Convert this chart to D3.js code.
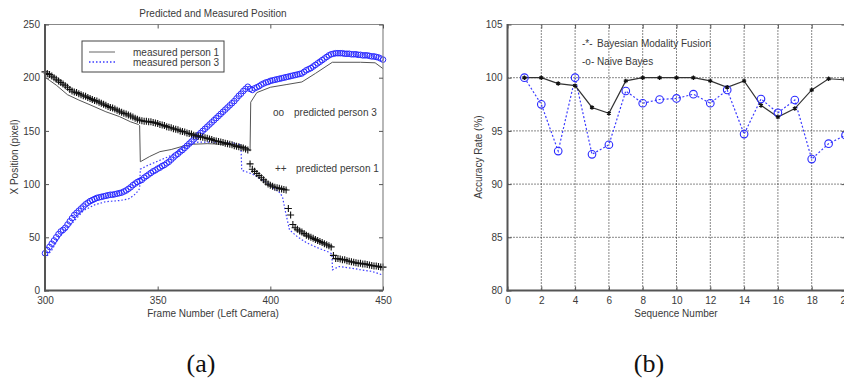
<!DOCTYPE html>
<html>
<head>
<meta charset="utf-8">
<script src="https://cdn.jsdelivr.net/npm/d3@7"></script>
<style>
  body { margin: 0; background: #fff; }
  svg { display: block; font-family: "Liberation Sans", Arial, sans-serif; }
</style>
</head>
<body>
<svg id="fig" width="844" height="383"></svg>
<script>
// ---- (a) Predicted and Measured Position ----
const frames = d3.range(300, 451);

const predictedPerson1 = [
  205.5, 204, 203, 201.5, 200, 198.5, 197, 195.5, 194, 192.5,
  191, 189, 187.5, 186.5, 186, 185, 184, 183, 182.5, 181.5,
  180.5, 179.5, 178.5, 178, 177, 176, 175, 174, 173, 172,
  171.5, 170.5, 169.5, 168.5, 167.5, 166.5, 166, 165, 164, 163,
  162, 161, 160, 159.5, 159, 159, 158.5, 158.5, 158, 157.5,
  157, 156, 155.5, 155, 154, 153.5, 153, 152, 151.5, 151,
  150, 149.5, 149, 148, 147.5, 147, 146, 145.5, 145, 144.5,
  144, 143.5, 143, 142.5, 142, 141, 140.5, 140, 139.5, 139,
  138.5, 138, 137.5, 137, 136, 135.5, 135, 134.5, 134, 133,
  132, 119, 114, 112, 110, 108, 106, 104, 102, 100,
  99, 98, 97, 96.5, 96, 95.5, 95, 94.5, 77, 71,
  62, 59, 57.5, 56, 55, 53.5, 52, 51, 50, 49,
  48, 47, 46, 45, 44, 43, 42, 41, 33, 30,
  30, 29.5, 29, 29, 28, 27.5, 27, 26.5, 26, 25.5,
  25.5, 25, 25, 24.5, 24, 23.5, 23, 23, 22.5, 22,
  22
];

const predictedPerson3 = [
  35, 38, 41, 44, 47, 50, 53, 55.5, 57, 59,
  62, 65, 68, 71, 73, 75, 77, 79, 81, 82.5,
  84, 85, 86, 87, 87.5, 88, 88.5, 89, 89.5, 90,
  90, 90.5, 91, 91.5, 92, 93, 94, 95.5, 97, 99,
  100.5, 102, 103, 104, 106, 107.5, 109, 110.5, 112, 113,
  114.5, 115.5, 117, 118, 119.5, 121, 123, 125, 127, 128.5,
  130.5, 132, 134, 136, 138, 140, 142, 144, 146, 148,
  150, 152, 154, 156, 158, 160, 162, 164, 166, 168,
  170, 172, 174, 176, 178, 180.5, 183, 185, 187.5, 189.5,
  191.5, 189.5, 188.5, 190, 191, 192, 193.5, 194.5, 195.5, 196,
  197, 197.5, 198, 198.5, 199, 199.5, 200, 200.5, 201, 201.5,
  202, 202.5, 203, 203.5, 204, 205.5, 207, 208, 209, 210.5,
  212, 213.5, 215, 216.5, 218, 219.5, 221, 222, 222.5, 223,
  223, 223, 223, 222.5, 222.5, 222.5, 222, 222, 222, 221.5,
  221.5, 221, 221, 221, 220.5, 220, 220, 219.5, 219, 218,
  217
];

// [frame, x position]
const measuredPerson1 = [
  [300, 200.5], [302, 197.5], [305, 193], [310, 184], [315, 179], [320, 174.5],
  [327, 168], [333, 163.5], [338, 158.5], [341.5, 156], [342, 155], [342.3, 121],
  [346.5, 126], [351, 130.5], [356, 132.5], [361, 135.5], [366, 137.5], [372, 138],
  [384, 137], [388, 135.5], [390.5, 133], [391, 131], [391.3, 177], [394, 186],
  [400, 191], [407, 193.5], [414, 196], [420, 204], [427.5, 214.5], [440, 214.5],
  [446.5, 214], [450, 208.5]
];

const measuredPerson3 = [
  [300, 30], [303, 38], [306.5, 50.5], [312, 63], [317, 75], [322, 80.5],
  [327, 83.5], [333, 84.5], [337, 86], [339.5, 89.5], [341.5, 94], [342, 96],
  [342.3, 114], [345, 117], [350, 121.5], [355, 126], [360, 132], [364, 137],
  [368, 139.5], [375, 139.5], [384, 138.5], [386.5, 137], [387, 134], [387.3, 113],
  [392, 109.5], [398, 102], [404.5, 91.5], [405.5, 87], [406.5, 76], [408.5, 57],
  [412, 50.5], [416, 45], [420, 41], [426, 36], [427.3, 34.5], [427.6, 19.5],
  [430.5, 22.5], [436, 21], [440, 19.5], [445, 18], [450, 14.5]
];

const frameTicks = [300, 350, 400, 450];
const positionTicks = [0, 50, 100, 150, 200, 250];

// ---- (b) Accuracy ----
const sequenceNumbers = d3.range(1, 21);
const bayesianFusion = [100, 100, 99.45, 99.25, 97.2, 96.65, 99.7, 100, 100, 100,
                        100, 99.7, 99.1, 99.7, 97.4, 96.3, 97.1, 98.85, 99.9, 99.8];
const naiveBayes = [100, 97.5, 93.1, 100, 92.8, 93.7, 98.75, 97.6, 97.95, 98.05,
                    98.45, 97.6, 98.85, 94.7, 98.0, 96.7, 97.9, 92.35, 93.8, 94.6];
const sequenceTicks = [0, 2, 4, 6, 8, 10, 12, 14, 16, 18, 20];
const accuracyTicks = [80, 85, 90, 95, 100, 105];

const svg = d3.select("#fig");
const plotTop = 24.5, plotBottom = 290.5;
const textColor = "#3a3a3a";
const blue = "#2a2aff";

function frame(g, x0, x1) {
  g.append("line").attr("x1", x0).attr("x2", x1).attr("y1", plotTop).attr("y2", plotTop)
    .attr("stroke", "#888").attr("stroke-width", 1.2);
  g.append("line").attr("x1", x1).attr("x2", x1).attr("y1", plotTop).attr("y2", plotBottom)
    .attr("stroke", "#888").attr("stroke-width", 1.2);
  g.append("line").attr("x1", x0).attr("x2", x0).attr("y1", plotTop - 0.5).attr("y2", plotBottom + 1)
    .attr("stroke", "#555").attr("stroke-width", 2);
  g.append("line").attr("x1", x0 - 1).attr("x2", x1).attr("y1", plotBottom).attr("y2", plotBottom)
    .attr("stroke", "#555").attr("stroke-width", 2);
}

function axes(g, x, y, xt, yt) {
  const style = sel => {
    sel.select(".domain").remove();
    sel.selectAll(".tick line").attr("stroke", "#555");
    sel.selectAll(".tick text").attr("fill", textColor).style("font-size", "10px")
      .style("font-family", "'Liberation Sans', Arial, sans-serif");
  };
  g.append("g").attr("transform", `translate(0,${plotBottom})`)
    .call(d3.axisBottom(x).tickValues(xt).tickSize(-4).tickPadding(6).tickFormat(d3.format("d")))
    .call(style);
  g.append("g").attr("transform", `translate(0,${plotTop})`)
    .call(d3.axisTop(x).tickValues(xt).tickSize(-4).tickFormat(""))
    .call(style);
  g.append("g").attr("transform", `translate(${x.range()[0]},0)`)
    .call(d3.axisLeft(y).tickValues(yt).tickSize(-4).tickPadding(5).tickFormat(d3.format("d")))
    .call(style);
  g.append("g").attr("transform", `translate(${x.range()[1]},0)`)
    .call(d3.axisRight(y).tickValues(yt).tickSize(-4).tickFormat(""))
    .call(style);
}

function label(g, txt, x, y, opts = {}) {
  const t = g.append("text").attr("x", x).attr("y", y).attr("fill", textColor)
    .style("font-size", (opts.size || 10) + "px")
    .attr("text-anchor", opts.anchor || "start").text(txt);
  if (opts.rotate) t.attr("transform", `rotate(-90,${x},${y})`);
  return t;
}

// ---------- panel (a) ----------
const ga = svg.append("g");
const xa = d3.scaleLinear().domain([300, 450]).range([45, 383]);
const ya = d3.scaleLinear().domain([0, 250]).range([plotBottom, plotTop]);

const lineA = d3.line().x(d => xa(d[0])).y(d => ya(d[1]));
ga.append("path").datum(measuredPerson1).attr("d", lineA)
  .attr("fill", "none").attr("stroke", "#555").attr("stroke-width", 1);
ga.append("path").datum(measuredPerson3).attr("d", lineA)
  .attr("fill", "none").attr("stroke", "#3b3bff").attr("stroke-width", 1.2)
  .attr("stroke-dasharray", "1.5,2");

ga.append("g").selectAll("circle")
  .data(frames.map((f, i) => [f, predictedPerson3[i]]))
  .join("circle")
  .attr("cx", d => xa(d[0])).attr("cy", d => ya(d[1])).attr("r", 2.8)
  .attr("fill", "none").attr("stroke", blue).attr("stroke-width", 1);

ga.append("g").selectAll("path")
  .data(frames.map((f, i) => [f, predictedPerson1[i]]))
  .join("path")
  .attr("d", d => {
    const cx = xa(d[0]), cy = ya(d[1]), s = 3.5;
    return `M${cx - s},${cy}H${cx + s}M${cx},${cy - s}V${cy + s}`;
  })
  .attr("stroke", "#111").attr("stroke-width", 1.1).attr("fill", "none");

frame(ga, 45, 383);
axes(ga, xa, ya, frameTicks, positionTicks);

label(ga, "Predicted and Measured Position", 213, 16.5, { anchor: "middle" });
label(ga, "Frame Number (Left Camera)", 213, 316.5, { anchor: "middle" });
label(ga, "X Position (pixel)", 17.5, 157, { anchor: "middle", rotate: true });

// legend
const lg = ga.append("g");
lg.append("rect").attr("x", 82).attr("y", 41).attr("width", 142).attr("height", 31)
  .attr("fill", "#fff").attr("stroke", "#444").attr("stroke-width", 1);
lg.append("line").attr("x1", 89).attr("x2", 115).attr("y1", 52).attr("y2", 52)
  .attr("stroke", "#666").attr("stroke-width", 1);
lg.append("line").attr("x1", 89).attr("x2", 115).attr("y1", 62).attr("y2", 62)
  .attr("stroke", "#3b3bff").attr("stroke-width", 1.3).attr("stroke-dasharray", "1.5,2");
label(lg, "measured person 1", 133, 55.5);
label(lg, "measured person 3", 133, 65.5);

label(ga, "oo", 273, 115.5);
label(ga, "predicted person 3", 294, 115.5);
label(ga, "++", 275, 171.5);
label(ga, "predicted person 1", 296, 171.5);

// ---------- panel (b) ----------
const gb = svg.append("g");
const xb = d3.scaleLinear().domain([0, 20]).range([507.5, 845.5]);
const yb = d3.scaleLinear().domain([80, 105]).range([plotBottom, plotTop]);

// dotted grid
gb.append("g").selectAll("line.v")
  .data(sequenceTicks.slice(1, -1)).join("line")
  .attr("x1", d => xb(d)).attr("x2", d => xb(d)).attr("y1", plotTop).attr("y2", plotBottom)
  .attr("stroke", "#111").attr("stroke-width", 1).attr("stroke-dasharray", "1,2");
gb.append("g").selectAll("line.h")
  .data(accuracyTicks.slice(1, -1)).join("line")
  .attr("x1", xb(0)).attr("x2", xb(20)).attr("y1", d => yb(d)).attr("y2", d => yb(d))
  .attr("stroke", "#111").attr("stroke-width", 1).attr("stroke-dasharray", "1,2");

const lineB = d3.line().x((d, i) => xb(sequenceNumbers[i])).y(d => yb(d));
gb.append("path").datum(naiveBayes).attr("d", lineB)
  .attr("fill", "none").attr("stroke", "#3b3bff").attr("stroke-width", 1.2)
  .attr("stroke-dasharray", "2,2");
gb.append("path").datum(bayesianFusion).attr("d", lineB)
  .attr("fill", "none").attr("stroke", "#333").attr("stroke-width", 1.2);

gb.append("g").selectAll("circle")
  .data(naiveBayes).join("circle")
  .attr("cx", (d, i) => xb(sequenceNumbers[i])).attr("cy", d => yb(d)).attr("r", 3.8)
  .attr("fill", "none").attr("stroke", blue).attr("stroke-width", 1.1);
gb.append("g").selectAll("path")
  .data(bayesianFusion).join("path")
  .attr("transform", (d, i) => `translate(${xb(sequenceNumbers[i])},${yb(d)})`)
  .attr("d", d3.symbol(d3.symbolAsterisk, 14)())
  .attr("fill", "none").attr("stroke", "#111").attr("stroke-width", 1.3);

frame(gb, 507.5, 845.5);
axes(gb, xb, yb, sequenceTicks, accuracyTicks);

label(gb, "Sequence Number", 676, 317, { anchor: "middle" });
label(gb, "Accuracy Rate (%)", 481.5, 157, { anchor: "middle", rotate: true });

label(gb, "-*-", 582, 47);
label(gb, "Bayesian Modality Fusion", 597, 47);
label(gb, "-o-", 582, 65);
label(gb, "Naive Bayes", 597, 65);

// captions
svg.append("text").attr("x", 201).attr("y", 372).attr("text-anchor", "middle")
  .style("font-family", "'Liberation Serif', 'DejaVu Serif', serif").style("font-size", "26px")
  .attr("fill", "#111").text("(a)");
svg.append("text").attr("x", 649).attr("y", 372).attr("text-anchor", "middle")
  .style("font-family", "'Liberation Serif', 'DejaVu Serif', serif").style("font-size", "26px")
  .attr("fill", "#111").text("(b)");
</script>
</body>
</html>
